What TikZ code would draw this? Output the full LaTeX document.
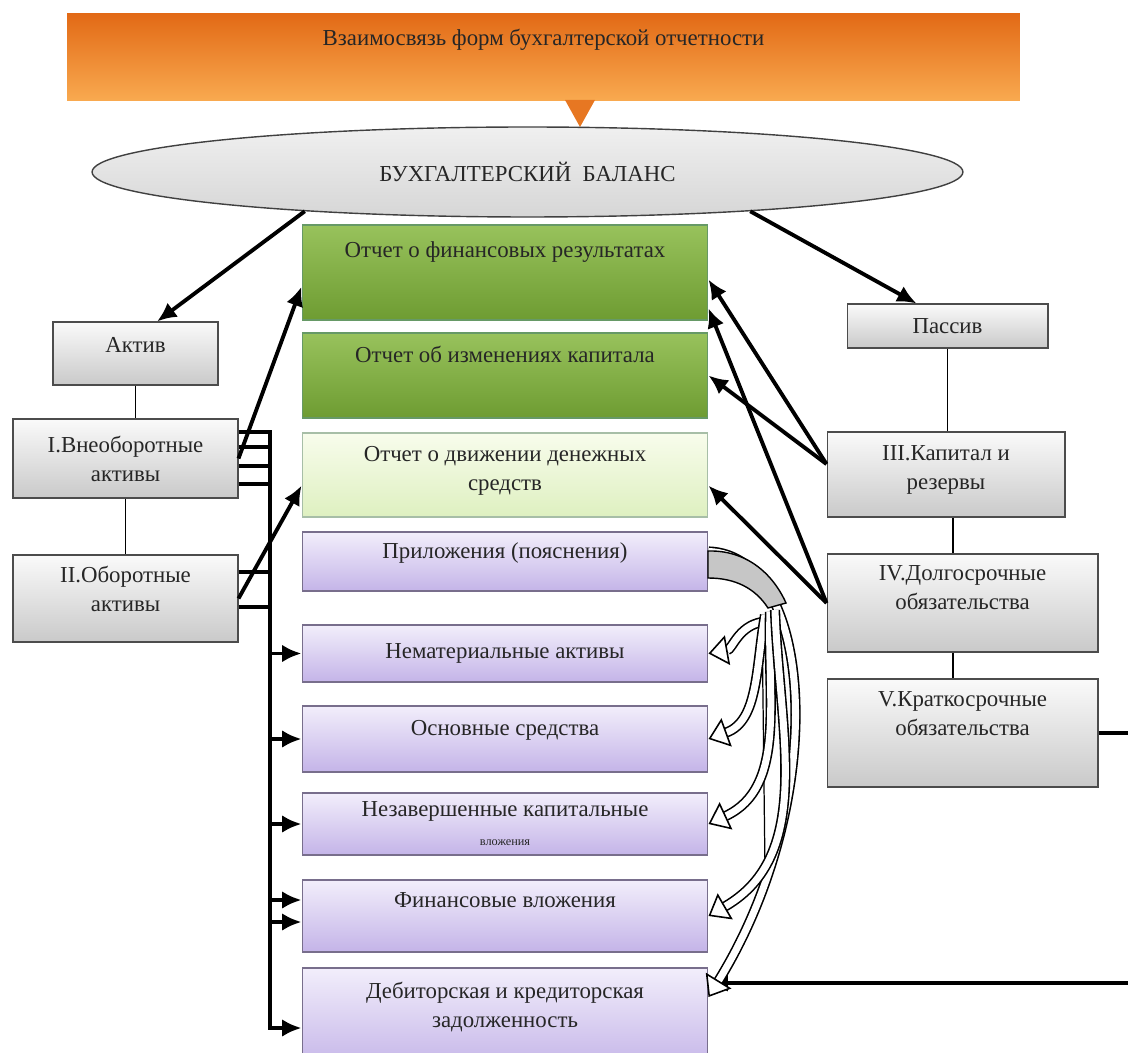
\documentclass[tikz,border=0pt]{standalone}
\usepackage{fontspec}
\setmainfont{Liberation Serif}
\usepackage{tikz}
\usetikzlibrary{positioning}
\usetikzlibrary{shapes.geometric, arrows.meta}

\definecolor{bannertop}{RGB}{226,106,22}
\definecolor{bannerbot}{RGB}{249,170,80}
\definecolor{greentop}{RGB}{152,194,92}
\definecolor{greenbot}{RGB}{110,156,50}
\definecolor{lighttop}{RGB}{248,252,236}
\definecolor{lightbot}{RGB}{222,240,192}
\definecolor{lilactop}{RGB}{242,238,251}
\definecolor{lilacbot}{RGB}{196,180,232}
\definecolor{lilacline}{RGB}{120,110,140}

\tikzset{
  banner/.style={top color=bannertop, bottom color=bannerbot},
  balance/.style={ellipse, draw=black!75, line width=0.8pt, top color=gray!12, bottom color=gray!32, inner sep=0pt},
  graybox/.style={draw=black!70, line width=0.6pt, top color=gray!4, bottom color=gray!42, align=center},
  greenbox/.style={draw=green!20!gray, line width=0.6pt, top color=greentop, bottom color=greenbot, align=center, minimum width=8.12cm},
  lightbox/.style={draw=green!15!gray!60, line width=0.6pt, top color=lighttop, bottom color=lightbot, align=center, minimum width=8.12cm},
  lilacbox/.style={draw=lilacline, line width=0.6pt, top color=lilactop, bottom color=lilacbot, align=center, minimum width=8.12cm},
  link/.style={line width=0.7pt},
  bigarrow/.style={line width=2.2pt, -{Latex[length=11pt,width=10pt]}},
  busline/.style={line width=2.2pt},
  hollow/.style={double=white, double distance=4pt, line width=0.9pt, -{Triangle[open, fill=white, length=11pt, width=17pt]}}
}

\begin{document}
\begin{tikzpicture}[x=0.02cm, y=-0.02cm, font=\fontsize{13}{16.5}\selectfont, text=black!85]
\useasboundingbox (0,0) rectangle (1128,1053);
\clip (0,0) rectangle (1128,1053);

\node[banner, minimum width=19.06cm, minimum height=1.74cm] (banner) at (543.5,57.5) {};
\node[below=0.3cm of banner.north, inner sep=0pt] (title) {Взаимосвязь форм бухгалтерской отчетности};
\fill[bannertop!80!bannerbot] (565,100) -- (595,100) -- (580,127) -- cycle;

\node[balance, minimum width=17.42cm, minimum height=1.8cm] (bal) at (527.5,172) {БУХГАЛТЕРСКИЙ\ \ БАЛАНС};

\node[greenbox, minimum height=1.9cm, text depth=0.92cm] (fin) at (505,272.5) {Отчет о финансовых результатах};
\node[greenbox, minimum height=1.7cm, text depth=0.84cm] (izm) at (505,375.5) {Отчет об изменениях капитала};
\node[lightbox, minimum height=1.68cm, text depth=0.28cm] (dds) at (505,475) {Отчет о движении денежных\\средств};
\node[lilacbox, minimum height=1.18cm, text depth=0.44cm] (pril) at (505,561.5) {Приложения (пояснения)};
\node[lilacbox, minimum height=1.14cm] (nma) at (505,653.5) {Нематериальные активы};
\node[lilacbox, minimum height=1.32cm, text depth=0.46cm] (os) at (505,739) {Основные средства};
\node[lilacbox, minimum height=1.24cm] (nkv) at (505,824) {Незавершенные капитальные\\{\scriptsize вложения}};
\node[lilacbox, minimum height=1.44cm, text depth=0.62cm] (finv) at (505,916) {Финансовые вложения};
\node[lilacbox, minimum height=2.04cm, text depth=0.58cm] (deb) at (505,1019) {Дебиторская и кредиторская\\задолженность};

\node[graybox, minimum width=3.3cm, minimum height=1.26cm, text depth=0.36cm] (aktiv) at (135.5,353.5) {Актив};
\node[graybox, minimum width=4.5cm, minimum height=1.58cm] (vneob) at (125.5,458.5) {I.Внеоборотные\\активы};
\node[graybox, minimum width=4.5cm, minimum height=1.74cm, text depth=0.38cm] (ob) at (125.5,598.5) {II.Оборотные\\активы};

\node[graybox, minimum width=4.02cm, minimum height=0.88cm] (passiv) at (947.5,326) {Пассив};
\node[graybox, minimum width=4.76cm, minimum height=1.7cm, text depth=0.28cm] (kap) at (946,474.5) {III.Капитал и\\резервы};
\node[graybox, minimum width=5.42cm, minimum height=1.96cm, text depth=0.62cm] (dolg) at (962.5,603) {IV.Долгосрочные\\обязательства};
\node[graybox, minimum width=5.42cm, minimum height=2.16cm, text depth=0.78cm] (kratk) at (962.5,733) {V.Краткосрочные\\обязательства};

\draw[link] (aktiv.south) -- (aktiv.south |- vneob.north);
\draw[link] (vneob.south) -- (vneob.south |- ob.north);
\draw[link] (passiv.south) -- (passiv.south |- kap.north);
\draw[link] ([xshift=0.14cm]kap.south) -- ([xshift=0.14cm]kap.south |- dolg.north);
\draw[link] ([xshift=-0.19cm]dolg.south) -- ([xshift=-0.19cm]kratk.north);

\draw[bigarrow] (bal.190) -- (aktiv.56);
\draw[bigarrow] (bal.350) -- (passiv.144);
\draw[bigarrow] (vneob.east) -- (fin.184);
\draw[bigarrow] (ob.east) -- (dds.183);
\draw[bigarrow] (kap.175) -- (fin.358);
\draw[bigarrow] (kap.175) -- (izm.east);
\draw[bigarrow] (dolg.west) -- (fin.350);
\draw[bigarrow] (dolg.west) -- (dds.357);

\coordinate (busend) at (270,1030);
\draw[busline] ([yshift=0.53cm]vneob.east) -| (busend);
\foreach \dy in {0.23,-0.15,-0.51}
  \draw[busline] ([yshift=\dy cm]vneob.east) -- ++(0.64cm,0);
\foreach \dy in {0.53,-0.17}
  \draw[busline] ([yshift=\dy cm]ob.east) -- ++(0.64cm,0);
\foreach \target in {nma,os,nkv}
  \draw[bigarrow] (busend |- \target.west) -- (\target.west);
\foreach \dy in {0.32,-0.12}
  \draw[bigarrow] ([xshift=-0.64cm, yshift=\dy cm]finv.west) -- ([yshift=\dy cm]finv.west);
\draw[bigarrow] ([xshift=-0.64cm, yshift=-0.18cm]deb.west) -- ([yshift=-0.18cm]deb.west);

\draw[bigarrow] (kratk.east) -- ++(1.5cm,0) |- ([yshift=0.72cm]deb.east);

\draw[hollow] ([yshift=0.2cm]pril.east) .. controls (815,555) and (830,800) .. ([yshift=0.44cm]deb.east);
\filldraw[fill=gray!45, draw=black, line width=0.8pt] (708,551) .. controls (745,550) and (772,572) .. (786,603) -- (768,608) .. controls (755,588) and (735,578) .. (708,578) -- cycle;
\draw[link] (762,615) -- (765,870);
\draw[hollow] (762,622) to[out=190, in=10] (nma.east);
\draw[hollow] (765,615) to[out=-100, in=20] (os.east);
\draw[hollow] (770,612) to[out=-92, in=25] (nkv.east);
\draw[hollow] (775,610) to[out=-88, in=30] (finv.east);
\end{tikzpicture}
\end{document}
